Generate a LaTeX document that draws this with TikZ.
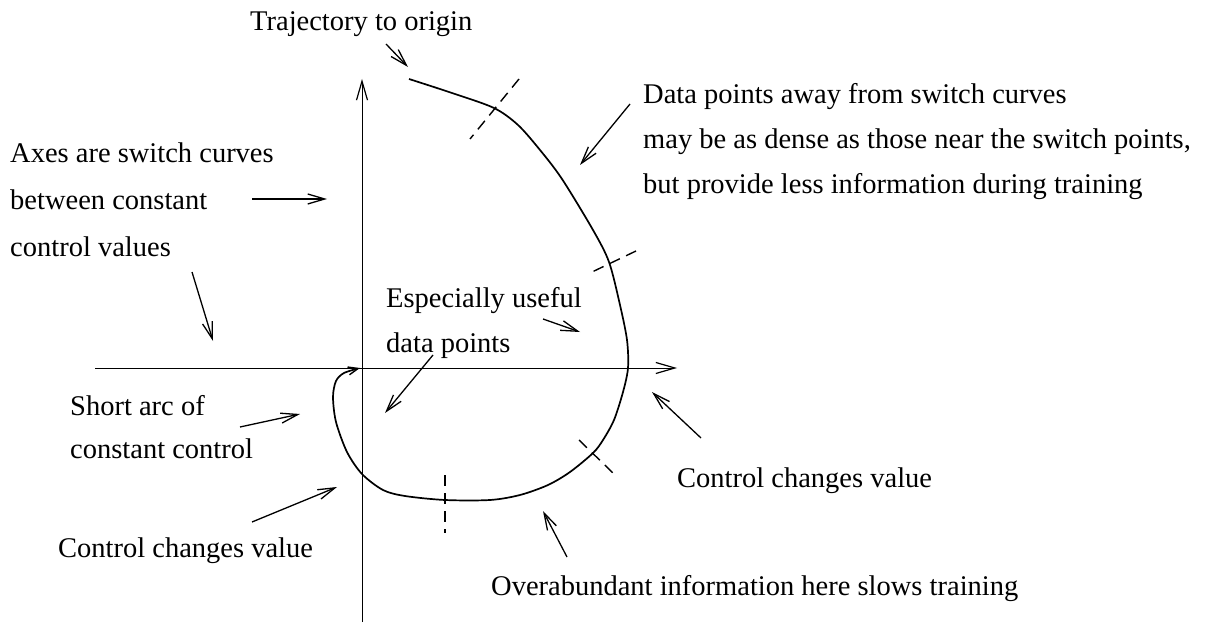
\documentclass[tikz,border=0pt]{standalone}
\usepackage{fontspec}
\setmainfont{Liberation Serif}
\usetikzlibrary{arrows.meta}
\begin{document}
\begin{tikzpicture}[x=1pt,y=-1pt,
  lbl/.style={font=\fontsize{28.5}{46}\selectfont, inner sep=0pt, align=left, anchor=base west},
  pointer/.style={line width=1.3pt, -{Straight Barb[length=17pt,width=10pt,line width=1.3pt]}},
  axis/.style={line width=1pt, -{Straight Barb[length=19pt,width=11pt,line width=1.2pt]}},
  traj/.style={line width=1.7pt, line join=round},
  tickmark/.style={line width=1.4pt, dash pattern=on 11pt off 7pt}]
\useasboundingbox (0,0) rectangle (1215,628);

% axes (the switch curves)
\coordinate (O) at (362,368);
\coordinate (yb) at (362,622);
\coordinate (yt) at (362,79);
\coordinate (xl) at (95,368);
\coordinate (xr) at (677,368);
\draw[axis] (yb) -- (yt);
\draw[axis] (xl) -- (xr);

% trajectory to the origin
\draw[traj, -{Straight Barb[length=10pt,width=8pt,line width=1.4pt]}]
  plot[smooth, tension=0.5] coordinates {
  (409,79) (452,93) (494,108) (518,125) (540,150) (562,179) (593,230)
  (609,262) (620,305) (627,340) (628,368) (623,392) (614,420) (603,440)
  (593,453) (570,472) (548,485) (520,495) (490,500) (445,500) (405,496)
  (383,490) (362,474) (347,452) (336,422) (333,397) (336,381) (344,373)
  (360,368)};

% switch points marked across the trajectory
\coordinate (s1a) at (470,139); \coordinate (s1b) at (519,79);
\coordinate (s2a) at (592,272); \coordinate (s2b) at (636,251);
\coordinate (s3a) at (579,440); \coordinate (s3b) at (613,473);
\coordinate (s4a) at (445,475); \coordinate (s4b) at (445,533);
\draw[tickmark] (s1b) -- (s1a);
\draw[tickmark] (s2b) -- (s2a);
\draw[tickmark] (s3a) -- (s3b);
\draw[tickmark] (s4a) -- (s4b);

% labels (multi-line labels are placed by the baseline of their last line)
\node[lbl] (traj) at (250,31) {Trajectory to origin};
\node[lbl, font=\fontsize{28.5}{47}\selectfont] (axes) at (10,257) {Axes are switch curves\\between constant\\control values};
\node[lbl, font=\fontsize{28.5}{45}\selectfont] (dat) at (643,194) {Data points away from switch curves\\may be as dense as those near the switch points,\\but provide less information during training};
\node[lbl, font=\fontsize{28.5}{45}\selectfont] (esp) at (386,352) {Especially useful\\data points};
\node[lbl, font=\fontsize{28.5}{43}\selectfont] (arc) at (70,458) {Short arc of\\constant control};
\node[lbl] (ccl) at (58,557) {Control changes value};
\node[lbl] (ccr) at (677,487) {Control changes value};
\node[lbl] (over) at (491,595) {Overabundant information here slows training};

% pointer arrows
\coordinate (a1s) at (386,44);  \coordinate (a1e) at (408,67);
\coordinate (a2s) at (252,199); \coordinate (a2e) at (327,199);
\coordinate (a3s) at (192,272); \coordinate (a3e) at (213,341);
\coordinate (a4s) at (630,104); \coordinate (a4e) at (580,165);
\coordinate (a5s) at (543,319); \coordinate (a5e) at (580,332);
\coordinate (a6s) at (433,355); \coordinate (a6e) at (385,413);
\coordinate (a7s) at (240,427); \coordinate (a7e) at (300,414);
\coordinate (a8s) at (252,522); \coordinate (a8e) at (337,487);
\coordinate (a9s) at (701,438); \coordinate (a9e) at (652,392);
\coordinate (a10s) at (567,557); \coordinate (a10e) at (543,511);
\foreach \k in {1,...,10} \draw[pointer] (a\k s) -- (a\k e);
\end{tikzpicture}
\end{document}
